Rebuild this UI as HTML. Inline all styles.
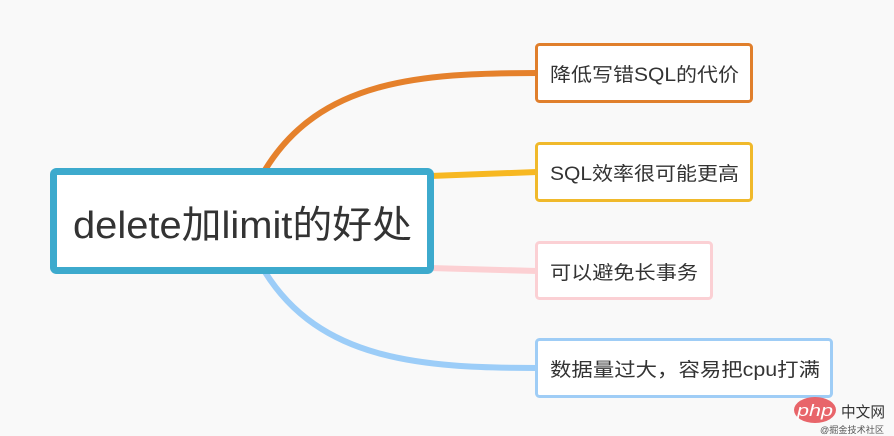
<!DOCTYPE html>
<html><head><meta charset="utf-8"><style>
html,body{margin:0;padding:0;background:#f9f9f9;}
svg{display:block}
text{font-family:"Liberation Sans","Noto Sans CJK SC",sans-serif;fill:#333;}
</style></head><body>
<svg width="894" height="436" viewBox="0 0 894 436" xmlns="http://www.w3.org/2000/svg">
<rect width="894" height="436" fill="#f9f9f9"/>
<!-- connectors -->
<path d="M265 170 C 320 80, 420 73, 537 73" stroke="#e5812c" stroke-width="6" fill="none"/>
<path d="M430 176 L 537 172" stroke="#f7b822" stroke-width="6" fill="none"/>
<path d="M430 268 L 537 271" stroke="#fcd0d3" stroke-width="6" fill="none"/>
<path d="M265 272 C 320 360, 420 368, 537 368" stroke="#9ccdf8" stroke-width="6" fill="none"/>
<!-- central -->
<rect x="53.5" y="171.5" width="377" height="99" rx="3" fill="#fff" stroke="#3daacd" stroke-width="7"/>
<text x="73" y="238" font-size="38" textLength="339" lengthAdjust="spacingAndGlyphs">delete加limit的好处</text>
<!-- children -->
<rect x="536.5" y="44.5" width="215" height="57" rx="3" fill="#fff" stroke="#e07f2c" stroke-width="3"/>
<text x="550" y="81" font-size="19" textLength="189" lengthAdjust="spacingAndGlyphs">降低写错SQL的代价</text>
<rect x="536.5" y="143.5" width="215" height="57" rx="3" fill="#fff" stroke="#f0b92b" stroke-width="3"/>
<text x="550" y="180" font-size="19" textLength="189" lengthAdjust="spacingAndGlyphs">SQL效率很可能更高</text>
<rect x="536.5" y="242.5" width="175" height="56" rx="3" fill="#fff" stroke="#fbd0d4" stroke-width="3"/>
<text x="550" y="279" font-size="19" textLength="148" lengthAdjust="spacingAndGlyphs">可以避免长事务</text>
<rect x="536.5" y="339.5" width="295" height="57" rx="3" fill="#fff" stroke="#9fcdf6" stroke-width="3"/>
<text x="550" y="376" font-size="19" textLength="270" lengthAdjust="spacingAndGlyphs">数据量过大，容易把cpu打满</text>
<!-- watermark -->
<ellipse cx="815" cy="410" rx="21" ry="13" fill="#e8656a"/>
<text x="797" y="416" font-size="17" font-style="italic" style="fill:#fff" textLength="36" lengthAdjust="spacingAndGlyphs">php</text>
<text x="841" y="417" font-size="15" textLength="44" lengthAdjust="spacingAndGlyphs">中文网</text>
<text x="820" y="433" font-size="9" style="fill:#555" textLength="64" lengthAdjust="spacingAndGlyphs">@掘金技术社区</text>
</svg>
</body></html>
